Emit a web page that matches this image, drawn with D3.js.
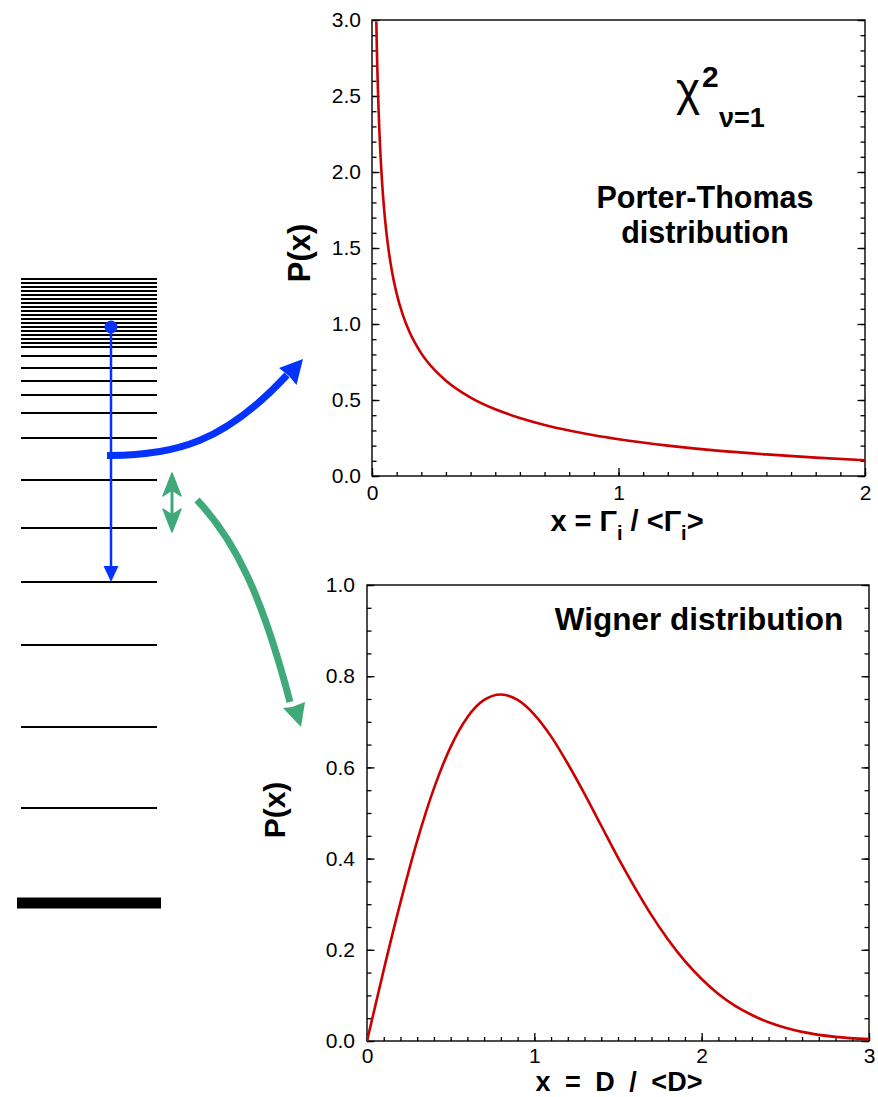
<!DOCTYPE html>
<html>
<head>
<meta charset="utf-8">
<script src="https://cdn.jsdelivr.net/npm/d3@7"></script>
<style>
  body { margin: 0; background: #fff; }
  svg { font-family: "Liberation Sans", Arial, Helvetica, sans-serif; }
</style>
</head>
<body>
<div id="chart"></div>
<script>
// data
// Porter-Thomas, chi2 nu=1
const ptX = [0.0175, 0.02, 0.03, 0.04, 0.05, 0.06, 0.08, 0.10, 0.125, 0.15, 0.2, 0.25, 0.3, 0.4, 0.5, 0.6, 0.7, 0.8, 0.9, 1.0, 1.2, 1.4, 1.6, 1.8, 2.0];
const ptY = [2.99, 2.79, 2.27, 1.955, 1.74, 1.58, 1.355, 1.20, 1.06, 0.956, 0.807, 0.704, 0.627, 0.516, 0.439, 0.382, 0.336, 0.299, 0.268, 0.242, 0.200, 0.167, 0.142, 0.121, 0.104];
// Wigner
const wgX = [0, 0.1, 0.2, 0.3, 0.4, 0.5, 0.6, 0.7, 0.8, 0.9, 1.0, 1.1, 1.2, 1.3, 1.4, 1.5, 1.6, 1.7, 1.8, 1.9, 2.0, 2.1, 2.2, 2.3, 2.4, 2.5, 2.6, 2.8, 3.0];
const wgY = [0, 0.156, 0.304, 0.439, 0.554, 0.645, 0.710, 0.748, 0.760, 0.748, 0.716, 0.668, 0.608, 0.542, 0.472, 0.402, 0.337, 0.276, 0.222, 0.175, 0.136, 0.103, 0.077, 0.057, 0.041, 0.029, 0.020, 0.009, 0.004];

const ptYTicks = [0, 0.5, 1.0, 1.5, 2.0, 2.5, 3.0];
const ptXTicks = [0, 1, 2];
const wgYTicks = [0, 0.2, 0.4, 0.6, 0.8, 1.0];
const wgXTicks = [0, 1, 2, 3];

// level scheme (arbitrary energy units above the ground state)
const groundLevel = 0;
const levels = [95, 176, 258, 321, 375, 423, 465, 490, 508, 522, 535, 547,
  556, 560, 564, 568, 572, 576, 580, 584, 588, 592, 596, 600, 604, 608, 612, 616, 620, 624];
const decayFrom = 576, decayTo = 321;

const W = 878, H = 1097;
const svg = d3.select("#chart").append("svg")
  .attr("width", W).attr("height", H);

const red = "#cc0000", blue = "#0433ff", green = "#3fa97a";

// ---------- level scheme ----------
const e = d3.scaleLinear().domain([0, 624]).range([903, 279]);

svg.append("g").selectAll("line")
  .data(levels)
  .join("line")
    .attr("x1", 21).attr("x2", 157)
    .attr("y1", d => e(d)).attr("y2", d => e(d))
    .attr("stroke", "#000").attr("stroke-width", 2.2);

svg.append("line")
  .attr("x1", 17).attr("x2", 161)
  .attr("y1", e(groundLevel)).attr("y2", e(groundLevel))
  .attr("stroke", "#000").attr("stroke-width", 11);

// gamma decay arrow
svg.append("line")
  .attr("x1", 111).attr("x2", 111)
  .attr("y1", e(decayFrom)).attr("y2", e(decayTo) - 14)
  .attr("stroke", blue).attr("stroke-width", 2.5);
svg.append("path")
  .attr("d", `M111,${e(decayTo)} L103.5,${e(decayTo) - 16} L118.5,${e(decayTo) - 16} Z`)
  .attr("fill", blue);
svg.append("circle")
  .attr("cx", 111).attr("cy", e(decayFrom)).attr("r", 6.5)
  .attr("fill", blue);

// thick blue arrow to the top chart
svg.append("path")
  .attr("d", "M107,455.5 C175,456 225,442 287,375")
  .attr("fill", "none").attr("stroke", blue).attr("stroke-width", 7);
svg.append("path")
  .attr("d", "M303,359 L296.5,385 L289,376 L279,368 Z")
  .attr("fill", blue);

// green spacing arrow
svg.append("line")
  .attr("x1", 172).attr("x2", 172).attr("y1", 478).attr("y2", 527)
  .attr("stroke", green).attr("stroke-width", 3);
svg.append("path")
  .attr("d", "M172,473 L181,496 L172,490 L163,496 Z")
  .attr("fill", green).attr("stroke", green).attr("stroke-width", 1.5)
  .attr("stroke-linejoin", "round");
svg.append("path")
  .attr("d", "M172,532 L181,509 L172,515 L163,509 Z")
  .attr("fill", green).attr("stroke", green).attr("stroke-width", 1.5)
  .attr("stroke-linejoin", "round");

// green arrow to the bottom chart
svg.append("path")
  .attr("d", "M197,500 C235,540 262,595 290,702")
  .attr("fill", "none").attr("stroke", green).attr("stroke-width", 7);
svg.append("path")
  .attr("d", "M301,727 L283,708 L292,707 L305,702 Z")
  .attr("fill", green);

// ---------- chart helper ----------
function panel(opt) {
  const x = d3.scaleLinear().domain(opt.xDomain).range(opt.xRange);
  const y = d3.scaleLinear().domain(opt.yDomain).range(opt.yRange);
  const g = svg.append("g");

  const clipId = "clip" + opt.id;
  g.append("clipPath").attr("id", clipId)
    .append("rect")
      .attr("x", opt.xRange[0]).attr("y", opt.yRange[1])
      .attr("width", opt.xRange[1] - opt.xRange[0])
      .attr("height", opt.yRange[0] - opt.yRange[1]);

  // minor ticks
  const minorX = d3.range(opt.xDomain[0], opt.xDomain[1] + 1e-9, opt.xMinor);
  const minorY = d3.range(opt.yDomain[0], opt.yDomain[1] + 1e-9, opt.yMinor);

  const style = sel => {
    sel.select(".domain").remove();
    sel.attr("font-size", 21).attr("font-family", "Liberation Sans, Arial, sans-serif");
    sel.selectAll("line").attr("stroke", "#000").attr("stroke-width", 1.3);
    sel.selectAll("text").attr("fill", "#000");
  };

  g.append("g").attr("transform", `translate(0,${opt.yRange[0]})`)
    .call(d3.axisBottom(x).tickValues(minorX).tickSize(-4).tickFormat(""))
    .call(style);
  g.append("g").attr("transform", `translate(0,${opt.yRange[0]})`)
    .call(d3.axisBottom(x).tickValues(opt.xTicks).tickSize(-8)
      .tickPadding(opt.xPad).tickFormat(d3.format("d")))
    .call(style);

  [[d3.axisLeft, opt.xRange[0], true], [d3.axisRight, opt.xRange[1], false]].forEach(([ax, px, labels]) => {
    g.append("g").attr("transform", `translate(${px},0)`)
      .call(ax(y).tickValues(minorY).tickSize(-4.5).tickFormat(""))
      .call(style);
    g.append("g").attr("transform", `translate(${px},0)`)
      .call(ax(y).tickValues(opt.yTicks).tickSize(-7.5)
        .tickPadding(opt.yPad).tickFormat(labels ? d3.format(".1f") : ""))
      .call(style);
  });

  // frame
  g.append("rect")
    .attr("x", opt.xRange[0]).attr("y", opt.yRange[1])
    .attr("width", opt.xRange[1] - opt.xRange[0])
    .attr("height", opt.yRange[0] - opt.yRange[1])
    .attr("fill", "none").attr("stroke", "#000").attr("stroke-width", 1.4);

  const line = d3.line()
    .x(d => x(d[0])).y(d => y(d[1]))
    .curve(d3.curveMonotoneX);
  g.append("path")
    .datum(opt.xs.map((v, i) => [v, opt.ys[i]]))
    .attr("clip-path", `url(#${clipId})`)
    .attr("d", line)
    .attr("fill", "none").attr("stroke", red).attr("stroke-width", 2.6);

  // y label
  g.append("text")
    .attr("transform", `translate(${opt.yLabelX},${opt.yLabelY}) rotate(-90)`)
    .attr("text-anchor", "middle")
    .attr("font-size", opt.yLabelSize).attr("font-weight", "bold")
    .text("P(x)");
  return g;
}

// ---------- Porter-Thomas ----------
const ptPanel = panel({
  id: 1, xs: ptX, ys: ptY,
  xDomain: [0, 2], yDomain: [0, 3],
  xRange: [372, 865], yRange: [476, 20],
  xTicks: ptXTicks, yTicks: ptYTicks, xMinor: 0.1, yMinor: 0.1,
  xPad: 9, yPad: 11, yLabelX: 310, yLabelY: 253, yLabelSize: 31
});

const xl1 = ptPanel.append("text")
  .attr("x", 627).attr("y", 531).attr("text-anchor", "middle")
  .attr("font-size", 29).attr("font-weight", "bold");
xl1.append("tspan").text("x = Γ");
xl1.append("tspan").attr("font-size", 20).attr("dy", 9).text("i");
xl1.append("tspan").attr("dy", -9).text(" / <Γ");
xl1.append("tspan").attr("font-size", 20).attr("dy", 9).text("i");
xl1.append("tspan").attr("dy", -9).text(">");

ptPanel.append("text").attr("x", 676).attr("y", 105)
  .attr("font-size", 46).text("χ");
ptPanel.append("text").attr("x", 702).attr("y", 87)
  .attr("font-size", 30).attr("font-weight", "bold").text("2");
ptPanel.append("text").attr("x", 719).attr("y", 127)
  .attr("font-size", 27).attr("font-weight", "bold").text("ν=1");

ptPanel.append("text").attr("x", 705).attr("y", 208).attr("text-anchor", "middle")
  .attr("font-size", 30.5).attr("font-weight", "bold").text("Porter-Thomas");
ptPanel.append("text").attr("x", 705).attr("y", 243).attr("text-anchor", "middle")
  .attr("font-size", 30.5).attr("font-weight", "bold").text("distribution");

// ---------- Wigner ----------
const wgPanel = panel({
  id: 2, xs: wgX, ys: wgY,
  xDomain: [0, 3], yDomain: [0, 1],
  xRange: [367, 869], yRange: [1041, 585],
  xTicks: wgXTicks, yTicks: wgYTicks, xMinor: 0.1, yMinor: 0.05,
  xPad: 7, yPad: 12, yLabelX: 285, yLabelY: 810, yLabelSize: 30
});

wgPanel.append("text")
  .attr("x", 619).attr("y", 1091).attr("text-anchor", "middle")
  .attr("font-size", 27).attr("font-weight", "bold").attr("word-spacing", 7)
  .text("x = D / <D>");

wgPanel.append("text").attr("x", 699).attr("y", 630).attr("text-anchor", "middle")
  .attr("font-size", 31.5).attr("font-weight", "bold").text("Wigner distribution");
</script>
</body>
</html>
